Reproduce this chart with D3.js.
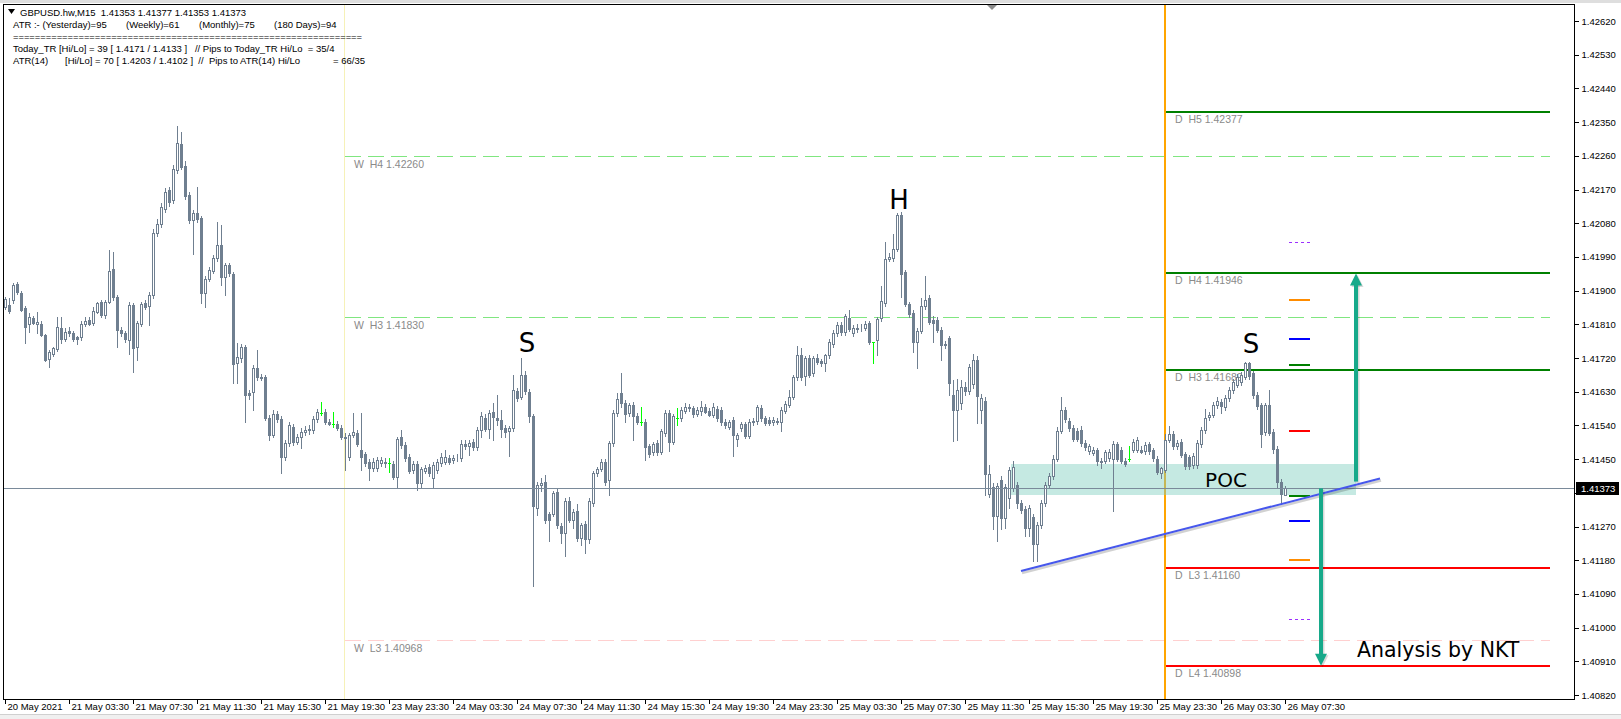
<!DOCTYPE html>
<html>
<head>
<meta charset="utf-8">
<script src="https://cdn.jsdelivr.net/npm/d3@7"></script>
<style>
  body { margin: 0; background: #fff; }
  svg { display: block; }
  text { font-family: "Liberation Sans", Arial, sans-serif; }
</style>
</head>
<body>
<svg id="chart"></svg>
<script>
// GBPUSD M15 candles, one entry per bar (bar 0 = 20 May 23:30 ... bar 320 = 26 May 07:30)
var opens = [
1.41857,1.41861,1.41875,1.41917,1.41894,1.41853,1.41811,1.41826,1.41811,1.41811,
1.41781,1.41716,1.41732,1.41743,1.41799,1.41770,1.41793,1.41786,1.41777,1.41775,
1.41812,1.41821,1.41814,1.41844,1.41869,1.41835,1.41870,1.41957,1.41882,1.41795,
1.41788,1.41768,1.41861,1.41750,1.41812,1.41866,1.41860,1.41888,1.42053,1.42079,
1.42117,1.42169,1.42142,1.42222,1.42291,1.42233,1.42155,1.42088,1.42106,1.42093,
1.41893,1.41930,1.41953,1.41986,1.42022,1.41937,1.41968,1.41944,1.41706,1.41719,
1.41750,1.41627,1.41630,1.41692,1.41669,1.41669,1.41561,1.41514,1.41570,1.41556,
1.41456,1.41492,1.41535,1.41496,1.41510,1.41523,1.41527,1.41528,1.41556,1.41574,
1.41577,1.41550,1.41544,1.41545,1.41532,1.41506,1.41455,1.41514,1.41520,1.41474,
1.41463,1.41443,1.41425,1.41425,1.41439,1.41439,1.41439,1.41437,1.41403,1.41508,
1.41487,1.41456,1.41421,1.41437,1.41385,1.41419,1.41430,1.41399,1.41421,1.41439,
1.41443,1.41452,1.41448,1.41452,1.41452,1.41491,1.41485,1.41497,1.41481,1.41528,
1.41561,1.41531,1.41575,1.41561,1.41555,1.41533,1.41524,1.41533,1.41632,1.41617,
1.41675,1.41630,1.41564,1.41319,1.41381,1.41388,1.41304,1.41304,1.41362,1.41272,
1.41252,1.41338,1.41288,1.41312,1.41239,1.41276,1.41237,1.41332,1.41412,1.41424,
1.41443,1.41395,1.41492,1.41573,1.41626,1.41601,1.41573,1.41595,1.41566,1.41549,
1.41550,1.41484,1.41468,1.41492,1.41470,1.41519,1.41573,1.41497,1.41559,1.41561,
1.41579,1.41586,1.41586,1.41571,1.41579,1.41590,1.41579,1.41568,1.41584,1.41582,
1.41549,1.41537,1.41555,1.41504,1.41533,1.41543,1.41513,1.41549,1.41552,1.41586,
1.41559,1.41555,1.41549,1.41552,1.41549,1.41579,1.41595,1.41617,1.41668,1.41728,
1.41671,1.41720,1.41679,1.41721,1.41711,1.41706,1.41727,1.41757,1.41786,1.41809,
1.41789,1.41828,1.41786,1.41798,1.41800,1.41800,1.41813,1.41762,1.41769,1.41826,
1.41866,1.41985,1.41988,1.42012,1.42101,1.41949,1.41864,1.41840,1.41762,1.41793,
1.41858,1.41880,1.41821,1.41822,1.41795,1.41758,1.41773,1.41622,1.41580,1.41600,
1.41642,1.41633,1.41650,1.41715,1.41582,1.41606,1.41357,1.41375,1.41297,1.41395,
1.41293,1.41346,1.41373,1.41382,1.41333,1.41318,1.41266,1.41295,1.41224,1.41273,
1.41333,1.41380,1.41404,1.41451,1.41526,1.41582,1.41553,1.41533,1.41524,1.41529,
1.41493,1.41471,1.41467,1.41473,1.41446,1.41446,1.41453,1.41449,1.41489,1.41475,
1.41446,1.41449,1.41475,1.41475,1.41475,1.41471,1.41489,1.41473,1.41451,1.41413,
1.41422,1.41502,1.41516,1.41484,1.41496,1.41464,1.41455,1.41435,1.41435,1.41489,
1.41527,1.41563,1.41569,1.41594,1.41603,1.41590,1.41612,1.41634,1.41649,1.41656,
1.41670,1.41706,1.41679,1.41621,1.41594,1.41523,1.41594,1.41523,1.41478,1.41389,
1.41353];
var highs = [
1.41882,1.41879,1.41919,1.41923,1.41900,1.41860,1.41839,1.41832,1.41844,1.41818,
1.41785,1.41742,1.41750,1.41829,1.41829,1.41800,1.41804,1.41792,1.41780,1.41820,
1.41830,1.41830,1.41855,1.41870,1.41876,1.41875,1.42008,1.42004,1.41888,1.41803,
1.41792,1.41870,1.41868,1.41820,1.41870,1.41874,1.41895,1.42065,1.42090,1.42135,
1.42175,1.42178,1.42236,1.42340,1.42324,1.42245,1.42163,1.42115,1.42178,1.42100,
1.41940,1.41962,1.41995,1.42084,1.42075,1.41975,1.41975,1.41950,1.41759,1.41758,
1.41756,1.41635,1.41700,1.41741,1.41678,1.41675,1.41568,1.41580,1.41578,1.41565,
1.41500,1.41550,1.41543,1.41518,1.41532,1.41538,1.41542,1.41565,1.41585,1.41603,
1.41585,1.41558,1.41577,1.41552,1.41540,1.41520,1.41520,1.41572,1.41528,1.41572,
1.41470,1.41450,1.41452,1.41456,1.41455,1.41452,1.41452,1.41445,1.41510,1.41528,
1.41495,1.41464,1.41445,1.41445,1.41430,1.41433,1.41438,1.41442,1.41450,1.41465,
1.41475,1.41460,1.41462,1.41464,1.41501,1.41500,1.41502,1.41505,1.41535,1.41577,
1.41570,1.41580,1.41599,1.41622,1.41581,1.41540,1.41538,1.41675,1.41640,1.41719,
1.41684,1.41638,1.41570,1.41388,1.41400,1.41408,1.41310,1.41365,1.41370,1.41280,
1.41345,1.41350,1.41318,1.41330,1.41280,1.41285,1.41345,1.41418,1.41430,1.41450,
1.41450,1.41499,1.41580,1.41626,1.41679,1.41608,1.41599,1.41602,1.41573,1.41590,
1.41558,1.41490,1.41497,1.41500,1.41530,1.41580,1.41580,1.41570,1.41586,1.41588,
1.41599,1.41598,1.41593,1.41589,1.41604,1.41598,1.41586,1.41599,1.41592,1.41590,
1.41556,1.41555,1.41562,1.41520,1.41550,1.41550,1.41556,1.41560,1.41595,1.41594,
1.41565,1.41562,1.41562,1.41560,1.41588,1.41604,1.41635,1.41675,1.41751,1.41746,
1.41726,1.41728,1.41726,1.41730,1.41718,1.41732,1.41770,1.41795,1.41816,1.41816,
1.41838,1.41849,1.41808,1.41810,1.41810,1.41818,1.41820,1.41764,1.41830,1.41911,
1.42031,1.42000,1.42051,1.42107,1.42110,1.41956,1.41870,1.41848,1.41800,1.41880,
1.41940,1.41887,1.41831,1.41830,1.41802,1.41766,1.41780,1.41660,1.41665,1.41660,
1.41655,1.41705,1.41730,1.41725,1.41625,1.41615,1.41435,1.41385,1.41385,1.41405,
1.41383,1.41430,1.41444,1.41390,1.41340,1.41325,1.41328,1.41303,1.41282,1.41340,
1.41388,1.41413,1.41460,1.41535,1.41615,1.41590,1.41560,1.41540,1.41532,1.41538,
1.41500,1.41490,1.41483,1.41480,1.41454,1.41475,1.41478,1.41499,1.41496,1.41482,
1.41453,1.41484,1.41505,1.41508,1.41485,1.41495,1.41497,1.41480,1.41458,1.41430,
1.41516,1.41538,1.41524,1.41502,1.41505,1.41470,1.41462,1.41465,1.41500,1.41535,
1.41583,1.41575,1.41602,1.41616,1.41610,1.41620,1.41642,1.41664,1.41678,1.41683,
1.41710,1.41710,1.41686,1.41628,1.41601,1.41601,1.41634,1.41530,1.41485,1.41398,
1.41377];
var lows = [
1.41850,1.41839,1.41866,1.41892,1.41845,1.41759,1.41790,1.41810,1.41786,1.41778,
1.41713,1.41697,1.41726,1.41738,1.41759,1.41765,1.41780,1.41765,1.41758,1.41768,
1.41806,1.41807,1.41808,1.41839,1.41830,1.41828,1.41866,1.41875,1.41750,1.41778,
1.41762,1.41732,1.41683,1.41715,1.41806,1.41850,1.41808,1.41880,1.42045,1.42070,
1.42110,1.42125,1.42135,1.42215,1.42225,1.42145,1.42080,1.41999,1.42083,1.41866,
1.41857,1.41925,1.41947,1.41980,1.41915,1.41888,1.41940,1.41652,1.41652,1.41710,
1.41550,1.41610,1.41581,1.41660,1.41660,1.41555,1.41501,1.41508,1.41550,1.41412,
1.41448,1.41485,1.41488,1.41490,1.41479,1.41515,1.41518,1.41520,1.41550,1.41568,
1.41545,1.41540,1.41537,1.41527,1.41505,1.41421,1.41448,1.41508,1.41485,1.41421,
1.41432,1.41394,1.41418,1.41418,1.41432,1.41430,1.41416,1.41396,1.41376,1.41480,
1.41445,1.41412,1.41414,1.41367,1.41375,1.41412,1.41405,1.41376,1.41414,1.41432,
1.41436,1.41436,1.41440,1.41446,1.41445,1.41478,1.41461,1.41475,1.41475,1.41510,
1.41525,1.41506,1.41501,1.41541,1.41510,1.41510,1.41457,1.41526,1.41605,1.41610,
1.41625,1.41550,1.41110,1.41301,1.41365,1.41280,1.41230,1.41298,1.41266,1.41225,
1.41190,1.41282,1.41265,1.41230,1.41220,1.41199,1.41225,1.41325,1.41405,1.41418,
1.41382,1.41353,1.41485,1.41565,1.41590,1.41550,1.41566,1.41501,1.41543,1.41540,
1.41448,1.41456,1.41460,1.41460,1.41463,1.41512,1.41472,1.41490,1.41540,1.41553,
1.41572,1.41579,1.41562,1.41564,1.41568,1.41572,1.41564,1.41562,1.41553,1.41542,
1.41534,1.41530,1.41457,1.41484,1.41526,1.41506,1.41506,1.41542,1.41545,1.41552,
1.41540,1.41540,1.41542,1.41543,1.41525,1.41572,1.41588,1.41610,1.41660,1.41660,
1.41648,1.41668,1.41672,1.41703,1.41698,1.41684,1.41720,1.41750,1.41780,1.41782,
1.41782,1.41792,1.41778,1.41790,1.41793,1.41794,1.41758,1.41706,1.41727,1.41818,
1.41858,1.41978,1.41980,1.42005,1.41884,1.41858,1.41830,1.41737,1.41693,1.41786,
1.41850,1.41810,1.41764,1.41789,1.41715,1.41748,1.41622,1.41498,1.41500,1.41585,
1.41620,1.41625,1.41640,1.41547,1.41547,1.41355,1.41350,1.41262,1.41231,1.41262,
1.41266,1.41320,1.41365,1.41320,1.41305,1.41244,1.41244,1.41177,1.41177,1.41266,
1.41326,1.41373,1.41397,1.41444,1.41520,1.41548,1.41525,1.41498,1.41498,1.41486,
1.41475,1.41464,1.41460,1.41435,1.41425,1.41440,1.41446,1.41311,1.41445,1.41440,
1.41431,1.41444,1.41468,1.41468,1.41465,1.41464,1.41464,1.41446,1.41409,1.41400,
1.41415,1.41495,1.41477,1.41477,1.41456,1.41424,1.41424,1.41426,1.41426,1.41482,
1.41520,1.41555,1.41562,1.41587,1.41572,1.41581,1.41605,1.41627,1.41642,1.41649,
1.41663,1.41665,1.41614,1.41585,1.41483,1.41515,1.41515,1.41465,1.41375,1.41330,
1.41353];
var closes = [
1.41877,1.41846,1.41915,1.41897,1.41848,1.41804,1.41829,1.41814,1.41817,1.41781,
1.41715,1.41737,1.41746,1.41802,1.41770,1.41790,1.41786,1.41770,1.41772,1.41812,
1.41820,1.41811,1.41846,1.41868,1.41835,1.41870,1.41953,1.41882,1.41795,1.41786,
1.41770,1.41861,1.41748,1.41814,1.41864,1.41855,1.41888,1.42053,1.42079,1.42124,
1.42163,1.42137,1.42226,1.42293,1.42231,1.42153,1.42088,1.42106,1.42090,1.41894,
1.41930,1.41955,1.41986,1.42022,1.41937,1.41968,1.41946,1.41704,1.41722,1.41750,
1.41621,1.41621,1.41692,1.41668,1.41666,1.41561,1.41514,1.41570,1.41556,1.41456,
1.41492,1.41541,1.41496,1.41508,1.41523,1.41528,1.41530,1.41556,1.41577,1.41574,
1.41550,1.41544,1.41544,1.41532,1.41510,1.41510,1.41514,1.41523,1.41490,1.41456,
1.41439,1.41425,1.41443,1.41447,1.41447,1.41443,1.41439,1.41403,1.41505,1.41487,
1.41452,1.41419,1.41437,1.41385,1.41423,1.41425,1.41412,1.41434,1.41443,1.41456,
1.41456,1.41443,1.41454,1.41454,1.41490,1.41485,1.41494,1.41481,1.41528,1.41564,
1.41531,1.41573,1.41563,1.41554,1.41531,1.41522,1.41533,1.41635,1.41613,1.41675,
1.41632,1.41564,1.41326,1.41381,1.41387,1.41288,1.41288,1.41359,1.41274,1.41252,
1.41338,1.41288,1.41310,1.41239,1.41274,1.41237,1.41337,1.41412,1.41423,1.41443,
1.41390,1.41492,1.41573,1.41610,1.41599,1.41570,1.41595,1.41564,1.41550,1.41549,
1.41481,1.41463,1.41490,1.41468,1.41524,1.41573,1.41495,1.41564,1.41559,1.41581,
1.41590,1.41588,1.41570,1.41581,1.41588,1.41577,1.41568,1.41590,1.41559,1.41549,
1.41540,1.41549,1.41515,1.41515,1.41543,1.41513,1.41549,1.41551,1.41588,1.41559,
1.41546,1.41546,1.41555,1.41549,1.41582,1.41597,1.41617,1.41668,1.41728,1.41668,
1.41720,1.41675,1.41720,1.41709,1.41706,1.41727,1.41762,1.41788,1.41809,1.41789,
1.41831,1.41798,1.41800,1.41801,1.41801,1.41810,1.41764,1.41762,1.41825,1.41873,
1.41985,1.41991,1.42012,1.42101,1.41944,1.41864,1.41837,1.41762,1.41793,1.41858,
1.41875,1.41816,1.41813,1.41795,1.41755,1.41756,1.41653,1.41580,1.41635,1.41642,
1.41633,1.41695,1.41715,1.41618,1.41613,1.41410,1.41410,1.41297,1.41378,1.41293,
1.41375,1.41422,1.41428,1.41333,1.41315,1.41266,1.41320,1.41222,1.41273,1.41333,
1.41380,1.41404,1.41451,1.41526,1.41582,1.41556,1.41532,1.41505,1.41505,1.41493,
1.41482,1.41484,1.41475,1.41446,1.41443,1.41468,1.41469,1.41491,1.41451,1.41446,
1.41437,1.41449,1.41496,1.41500,1.41469,1.41487,1.41471,1.41453,1.41416,1.41425,
1.41502,1.41517,1.41484,1.41493,1.41462,1.41431,1.41431,1.41458,1.41493,1.41527,
1.41560,1.41567,1.41594,1.41605,1.41592,1.41612,1.41634,1.41656,1.41670,1.41674,
1.41706,1.41672,1.41621,1.41592,1.41518,1.41594,1.41521,1.41478,1.41389,1.41358,
1.41373];

// time axis labels, one every 16 bars
var timeLabels = ["20 May 2021","21 May 03:30","21 May 07:30","21 May 11:30","21 May 15:30",
  "21 May 19:30","23 May 23:30","24 May 03:30","24 May 07:30","24 May 11:30","24 May 15:30",
  "24 May 19:30","24 May 23:30","25 May 03:30","25 May 07:30","25 May 11:30","25 May 15:30",
  "25 May 19:30","25 May 23:30","26 May 03:30","26 May 07:30"];
var priceTicks = [1.42620,1.42530,1.42440,1.42350,1.42260,1.42170,1.42080,1.41990,1.41900,
  1.41810,1.41720,1.41630,1.41540,1.41450,1.41360,1.41270,1.41180,1.41090,1.41000,1.40910,1.40820];

var lastPrice = 1.41373;
var weekStartBar = 85, dayStartBar = 290;

// pivot levels
var weeklyNames  = ["H4", "H3", "L3"];
var weeklyPrices = [1.42260, 1.41830, 1.40968];
var dailyNames   = ["H5", "H4", "H3", "L3", "L4"];
var dailyPrices  = [1.42377, 1.41946, 1.41689, 1.41160, 1.40898];

// short marker dashes (ATR / today range levels)
var markPrices = [1.42030, 1.41875, 1.41771, 1.41701, 1.41525, 1.41351, 1.41285, 1.41180, 1.41023];
var markKinds  = ["purple","orange","blue","green","red","green","blue","orange","purple"];

var headerLines = [
  "GBPUSD.hw,M15  1.41353 1.41377 1.41353 1.41373",
  "ATR :- (Yesterday)=95|(Weekly)=61|(Monthly)=75|(180 Days)=94",
  "=",
  "Today_TR [Hi/Lo] = 39 [ 1.4171 / 1.4133 ]   // Pips to Today_TR Hi/Lo  = 35/4",
  "ATR(14)|[Hi/Lo] = 70 [ 1.4203 / 1.4102 ]  //  Pips to ATR(14) Hi/Lo|= 66/35"
];

var W = 1621, H = 719;
var frame = {left: 3, top: 4, right: 1574, bottom: 699};
var slate = "#6f7f90";

var svg = d3.select("#chart").attr("width", W).attr("height", H);

var x = d3.scaleLinear().domain([0, 320]).range([5, 1285]);
var y = d3.scaleLinear().domain([1.40820, 1.42620]).range([695, 21]);
var px = function(v) { return Math.round(v) + 0.5; };

// window chrome
svg.append("rect").attr("width", W).attr("height", H).attr("fill", "#fff");
svg.append("rect").attr("width", W).attr("height", 3).attr("fill", "#dedede");
svg.append("rect").attr("y", 715).attr("width", W).attr("height", 4).attr("fill", "#f0f0f0");
svg.append("line").attr("x1", 0).attr("x2", W).attr("y1", 714.5).attr("y2", 714.5).attr("stroke", "#d0d0d0");

var plot = svg.append("g").attr("shape-rendering", "crispEdges");

// week separator
plot.append("line")
  .attr("x1", px(x(weekStartBar)) - 1).attr("x2", px(x(weekStartBar)) - 1)
  .attr("y1", frame.top).attr("y2", frame.bottom)
  .attr("stroke", "#f6f1b8").attr("stroke-width", 1);

// weekly pivot lines
var wColors = ["#80e680", "#80e680", "#ffd0d0"];
weeklyPrices.forEach(function(p, k) {
  var yy = px(y(p));
  plot.append("line")
    .attr("x1", x(weekStartBar)).attr("x2", 1550)
    .attr("y1", yy).attr("y2", yy)
    .attr("stroke", wColors[k]).attr("stroke-dasharray", "16,7");
  svg.append("text")
    .attr("x", x(weekStartBar) + 9).attr("y", yy + 11)
    .attr("font-size", 10.5).attr("fill", "#8a8a8a")
    .style("white-space", "pre")
    .text("W  " + weeklyNames[k] + " " + p.toFixed(5));
});

// daily pivot lines
dailyPrices.forEach(function(p, k) {
  var yy = Math.round(y(p));
  plot.append("line")
    .attr("x1", x(dayStartBar)).attr("x2", 1550)
    .attr("y1", yy).attr("y2", yy)
    .attr("stroke", dailyNames[k][0] == "H" ? "#008000" : "#ff0000").attr("stroke-width", 2);
  svg.append("text")
    .attr("x", x(dayStartBar) + 10).attr("y", yy + 11)
    .attr("font-size", 10.5).attr("fill", "#8a8a8a")
    .style("white-space", "pre")
    .text("D  " + dailyNames[k] + " " + p.toFixed(5));
});

plot.append("line")
  .attr("x1", x(dayStartBar)).attr("x2", x(dayStartBar))
  .attr("y1", frame.top).attr("y2", frame.bottom)
  .attr("stroke", "#ffa500").attr("stroke-width", 2);

// POC zone
plot.append("rect")
  .attr("x", x(251.5)).attr("width", x(337.75) - x(251.5))
  .attr("y", y(1.41437)).attr("height", y(1.41354) - y(1.41437))
  .attr("fill", "#7fcfbf").attr("opacity", 0.45);

// candles
var bars = closes.map(function(c, i) {
  return {i: i, o: opens[i], h: highs[i], l: lows[i], c: c};
});
var cg = svg.append("g").attr("shape-rendering", "crispEdges");

cg.selectAll("line.wick")
  .data(bars)
  .enter()
  .append("line")
    .attr("class", "wick")
    .attr("x1", function(d) { return px(x(d.i)); })
    .attr("x2", function(d) { return px(x(d.i)); })
    .attr("y1", function(d) { return Math.round(y(d.h)); })
    .attr("y2", function(d) { return Math.round(y(d.l)) + 1; })
    .attr("stroke", function(d) { return d.o == d.c ? "#00ff00" : slate; });

cg.selectAll("rect.body")
  .data(bars.filter(function(d) { return d.o != d.c; }))
  .enter()
  .append("rect")
    .attr("class", "body")
    .attr("x", function(d) { return Math.round(x(d.i)) - 0.5; })
    .attr("width", 2)
    .attr("y", function(d) { return px(y(Math.max(d.o, d.c))); })
    .attr("height", function(d) { return Math.max(0, px(y(Math.min(d.o, d.c))) - px(y(Math.max(d.o, d.c)))); })
    .attr("fill", function(d) { return d.c > d.o ? "#fff" : slate; })
    .attr("stroke", slate);

cg.selectAll("line.doji")
  .data(bars.filter(function(d) { return d.o == d.c; }))
  .enter()
  .append("line")
    .attr("class", "doji")
    .attr("x1", function(d) { return Math.round(x(d.i)) - 1; })
    .attr("x2", function(d) { return Math.round(x(d.i)) + 2; })
    .attr("y1", function(d) { return px(y(d.c)); })
    .attr("y2", function(d) { return px(y(d.c)); })
    .attr("stroke", "#00ff00");

// current price line
svg.append("line")
  .attr("x1", frame.left).attr("x2", frame.right)
  .attr("y1", px(y(lastPrice))).attr("y2", px(y(lastPrice)))
  .attr("stroke", "#7a8a9a").attr("shape-rendering", "crispEdges");

// marker dashes
var markColor = {purple: "#9b30ff", orange: "#ff8c00", blue: "#0000ff", green: "#008000", red: "#ff0000"};
markPrices.forEach(function(p, k) {
  var kind = markKinds[k];
  svg.append("line")
    .attr("x1", x(321)).attr("x2", x(326.25))
    .attr("y1", Math.round(y(p))).attr("y2", Math.round(y(p)))
    .attr("stroke", markColor[kind])
    .attr("stroke-width", kind == "purple" ? 1 : 2)
    .attr("stroke-dasharray", kind == "purple" ? "3,3" : null)
    .attr("shape-rendering", "crispEdges");
});

// trend line
var trend = [[254, 1.41151], [343.75, 1.41398]];
svg.append("line")
  .attr("x1", x(trend[0][0]) + 1).attr("y1", y(trend[0][1]) + 2)
  .attr("x2", x(trend[1][0]) + 1).attr("y2", y(trend[1][1]) + 2)
  .attr("stroke", "#000").attr("stroke-opacity", 0.18).attr("stroke-width", 2.5);
svg.append("line")
  .attr("x1", x(trend[0][0])).attr("y1", y(trend[0][1]))
  .attr("x2", x(trend[1][0])).attr("y2", y(trend[1][1]))
  .attr("stroke", "#4657ec").attr("stroke-width", 2);

// arrows
function arrow(bar, from, to) {
  var ax = x(bar), y0 = y(from), y1 = y(to);
  var dir = y1 < y0 ? 1 : -1;
  var g = svg.append("g");
  [[1.5, "#000", 0.15], [0, "#17a98a", 1]].forEach(function(s) {
    g.append("line")
      .attr("x1", ax + s[0]).attr("x2", ax + s[0])
      .attr("y1", y0 + s[0]).attr("y2", y1 + dir * 10 + s[0])
      .attr("stroke", s[1]).attr("stroke-opacity", s[2]).attr("stroke-width", 4);
    g.append("path")
      .attr("d", "M" + (ax - 6 + s[0]) + "," + (y1 + dir * 12 + s[0]) +
                 "L" + (ax + s[0]) + "," + (y1 + s[0]) +
                 "L" + (ax + 6 + s[0]) + "," + (y1 + dir * 12 + s[0]) + "Z")
      .attr("fill", s[1]).attr("fill-opacity", s[2]);
  });
}
arrow(337.75, 1.41390, 1.41946);
arrow(329, 1.41372, 1.40898);

// annotations
var notes = [
  {t: "S", bar: 130.5, p: 1.41736, size: 26, anchor: "middle"},
  {t: "H", bar: 223.5, p: 1.42118, size: 26, anchor: "middle"},
  {t: "S", bar: 311.5, p: 1.41733, size: 26, anchor: "middle"},
  {t: "POC", bar: 305.25, p: 1.41375, size: 20, anchor: "middle"},
  {t: "Analysis by NKT", bar: 338, p: 1.40921, size: 20.5, anchor: "start"}
];
svg.selectAll("text.note")
  .data(notes)
  .enter()
  .append("text")
    .attr("class", "note")
    .attr("x", function(d) { return x(d.bar); })
    .attr("y", function(d) { return y(d.p); })
    .attr("text-anchor", function(d) { return d.anchor; })
    .attr("font-size", function(d) { return d.size; })
    .style("font-family", "'DejaVu Sans', Verdana, sans-serif")
    .attr("fill", "#000")
    .text(function(d) { return d.t; });

// frame
svg.append("rect")
  .attr("x", frame.left + 0.5).attr("y", frame.top + 0.5)
  .attr("width", frame.right - frame.left).attr("height", frame.bottom - frame.top)
  .attr("fill", "none").attr("stroke", "#000").attr("shape-rendering", "crispEdges");
svg.append("path").attr("d", "M987,5L997,5L992,10Z").attr("fill", "#8c8c8c");

// price axis (the label under the current-price box is hidden, as in MT4)
var yAxis = svg.append("g")
  .attr("transform", "translate(" + (frame.right + 0.5) + ",0)")
  .call(d3.axisRight(y).tickValues(priceTicks).tickSizeInner(4).tickSizeOuter(0)
          .tickPadding(3).tickFormat(d3.format(".5f")));
yAxis.select(".domain").remove();
yAxis.selectAll("text").attr("font-size", 9.5).attr("fill", "#000")
  .style("font-family", "'Liberation Sans', Arial, sans-serif");
yAxis.selectAll(".tick")
  .filter(function(d) { return Math.abs(y(d) - y(lastPrice)) < 10; })
  .select("text").remove();
yAxis.selectAll("line").attr("stroke", "#000").attr("shape-rendering", "crispEdges");

svg.append("rect")
  .attr("x", frame.right + 2).attr("y", Math.round(y(lastPrice)) - 6)
  .attr("width", 43).attr("height", 13).attr("fill", "#000");
svg.append("text")
  .attr("x", frame.right + 7).attr("y", Math.round(y(lastPrice)) + 4)
  .attr("font-size", 9.5).attr("fill", "#fff")
  .text(d3.format(".5f")(lastPrice));

// time axis
var timeTicks = timeLabels.map(function(t, k) { return k * 16; });
var xAxis = svg.append("g")
  .attr("transform", "translate(0," + (frame.bottom + 0.5) + ")")
  .call(d3.axisBottom(x).tickValues(timeTicks).tickSizeInner(4).tickSizeOuter(0)
          .tickFormat(function(d, k) { return timeLabels[k]; }));
xAxis.select(".domain").remove();
xAxis.selectAll("line").attr("stroke", "#000").attr("shape-rendering", "crispEdges");
xAxis.selectAll("text")
  .attr("text-anchor", "start").attr("x", 2).attr("y", 4)
  .attr("font-size", 9.5).attr("fill", "#000")
  .style("font-family", "'Liberation Sans', Arial, sans-serif");

// header block
svg.append("path").attr("d", "M8,9L15,9L11.5,14Z").attr("fill", "#000");
var segX = [[20], [13, 126, 199, 274], [13], [13], [13, 65, 333]];
headerLines.forEach(function(line, r) {
  var parts = line.split("|");
  parts.forEach(function(part, k) {
    var t = svg.append("text")
      .attr("x", segX[r][k]).attr("y", 16 + r * 12)
      .attr("font-size", 9.5).attr("fill", "#000")
      .style("white-space", "pre");
    if (part == "=") {
      t.text(d3.range(64).map(function() { return "="; }).join(""))
        .attr("textLength", 349).attr("lengthAdjust", "spacingAndGlyphs");
    } else {
      t.text(part);
    }
  });
});
</script>
</body>
</html>
